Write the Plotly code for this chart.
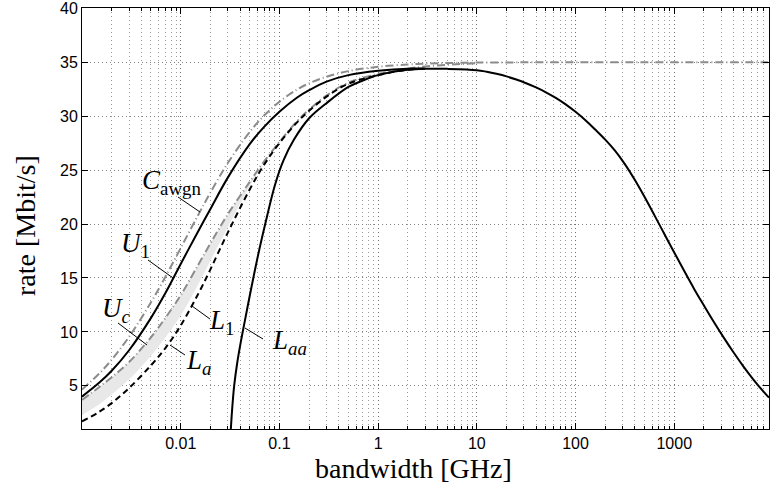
import math
import plotly.graph_objects as go

# ---------------- data ----------------
bw_low = [0.001, 0.0015, 0.002, 0.003, 0.005, 0.007, 0.01, 0.015, 0.02, 0.03,
          0.05, 0.07, 0.1, 0.15, 0.2, 0.3, 0.5, 1, 2, 3]
bw_high = [5, 10, 12.6, 15.8, 20, 25.1, 31.6, 39.8, 50.1, 63.1, 79.4, 100, 126, 158,
           200, 251, 316, 398, 501, 631, 794, 1000, 1259, 1585, 1995, 2512, 3162,
           3981, 5012, 6310, 7943, 9120]

c_awgn_low = [4.66, 6.15, 7.43, 9.55, 12.74, 15.11, 17.77, 20.82, 22.92, 25.65,
              28.53, 30.05, 31.33, 32.45, 33.04, 33.65, 34.17, 34.57, 34.79, 34.86]
c_awgn_high = [34.92, 34.96, 34.96, 34.97, 34.98, 34.98, 34.99, 34.99, 35.0, 35.0,
               35.0, 35.0, 35.0, 35.0, 35.0, 35.0, 35.0, 35.0, 35.0, 35.0,
               35.0, 35.0, 35.0, 35.0, 35.0, 35.0, 35.0, 35.0, 35.0, 35.0,
               35.0, 35.0]

u1_low = [4.0, 5.3, 6.4, 8.3, 11.3, 13.6, 16.3, 19.3, 21.4, 24.3,
          27.4, 29.0, 30.4, 31.7, 32.4, 33.2, 33.8, 34.2, 34.4, 34.4]
u1_high = [34.38, 34.26, 34.11, 33.92, 33.68, 33.39, 33.05, 32.66, 32.21, 31.69,
           31.09, 30.40, 29.62, 28.76, 27.82, 26.80, 25.55, 24.10, 22.50, 20.80,
           19.08, 17.36, 15.66, 14.01, 12.46, 10.94, 9.49, 8.11, 6.81, 5.61,
           4.51, 3.91]

uc_low = [3.7, 4.9, 5.8, 7.2, 9.5, 11.3, 13.4, 16.2, 18.2, 20.9,
          23.9, 25.8, 27.6, 29.5, 30.6, 31.9, 33.1, 33.9, 34.4, 34.6]
bw_uc_tail = [5, 10]
uc_tail = [34.75, 34.9]

l1_low = [2.3, 3.3, 4.2, 5.6, 7.8, 9.5, 11.5, 14.4, 16.6, 19.7,
          23.5, 25.7, 27.6, 29.5, 30.6, 31.9, 33.0, 33.8, 34.3, 34.45]

la_low = [1.7, 2.6, 3.4, 4.8, 6.9, 8.5, 10.6, 13.5, 15.8, 19.2,
          23.2, 25.5, 27.5, 29.4, 30.5, 31.8, 33.0, 33.8, 34.3, 34.4]

bw_aa = [0.0322, 0.0333, 0.0348, 0.0372, 0.0405, 0.0446, 0.0492, 0.0544, 0.0621, 0.0718,
         0.09, 0.11, 0.14, 0.2, 0.3, 0.5, 0.7, 1, 2, 3]
laa = [1.0, 3.0, 5.0, 7.0, 9.0, 11.0, 13.0, 15.0, 17.5, 20.0,
       23.6, 25.9, 27.8, 29.8, 31.2, 32.7, 33.3, 33.8, 34.3, 34.4]

x_tick_vals = [0.01, 0.1, 1, 10, 100, 1000]
x_tick_text = ["0.01", "0.1", "1", "10", "100", "1000"]
y_tick_vals = [5, 10, 15, 20, 25, 30, 35, 40]

# ---------------- figure ----------------
W, H = 770, 492
L, R, T, B = 82, 769, 8, 429

BLACK = "#000000"
GRAY = "#8c8c8c"
GRAY_DASH = "8px,3px,1px,3px"

fig = go.Figure()

# shaded band between U_c and L_1
fig.add_trace(go.Scatter(x=bw_low, y=uc_low, mode="lines", line=dict(width=0, shape="spline"),
                         showlegend=False, hoverinfo="skip"))
fig.add_trace(go.Scatter(x=bw_low, y=l1_low, mode="lines", line=dict(width=0, shape="spline"),
                         fill="tonexty", fillcolor="#e8e8e8", showlegend=False, hoverinfo="skip"))

# curves
fig.add_trace(go.Scatter(x=bw_low + bw_high, y=c_awgn_low + c_awgn_high, mode="lines",
                         line=dict(color=GRAY, width=2, dash=GRAY_DASH, shape="spline"),
                         name="C_awgn", showlegend=False))
fig.add_trace(go.Scatter(x=bw_low + bw_uc_tail, y=uc_low + uc_tail, mode="lines",
                         line=dict(color=GRAY, width=2, dash=GRAY_DASH, shape="spline"),
                         name="U_c", showlegend=False))
fig.add_trace(go.Scatter(x=bw_low, y=la_low, mode="lines",
                         line=dict(color=BLACK, width=2, dash="6px,4px", shape="spline"),
                         name="L_a", showlegend=False))
fig.add_trace(go.Scatter(x=bw_aa, y=laa, mode="lines",
                         line=dict(color=BLACK, width=2, shape="spline"),
                         name="L_aa", showlegend=False))
fig.add_trace(go.Scatter(x=bw_low + bw_high, y=u1_low + u1_high, mode="lines",
                         line=dict(color=BLACK, width=2, shape="spline"),
                         name="U_1", showlegend=False))

minor_vals = [k * 10 ** e for e in range(-3, 4) for k in range(2, 10)]

GRID_DASH = "1px,3px"
tickfont = dict(family="Liberation Sans, Arial, sans-serif", size=16, color=BLACK)

fig.update_xaxes(type="log", range=[-3, math.log10(9120)], automargin=False,
                 tickmode="array", tickvals=x_tick_vals, ticktext=x_tick_text,
                 ticks="inside", ticklen=6, tickcolor=BLACK, ticklabeloverflow="allow",
                 showline=True, linecolor=BLACK, linewidth=1, mirror="ticks",
                 showgrid=True, zeroline=False,
                 gridcolor="#6e6e6e", griddash=GRID_DASH, gridwidth=1,
                 minor=dict(tickmode="array", tickvals=minor_vals, ticks="inside", ticklen=3,
                            tickcolor=BLACK, showgrid=True, gridcolor="#9a9a9a",
                            griddash=GRID_DASH, gridwidth=1),
                 tickfont=tickfont)
fig.update_yaxes(range=[1, 40.02], automargin=False,
                 tickmode="array", tickvals=y_tick_vals,
                 ticks="inside", ticklen=6, tickcolor=BLACK, ticklabeloverflow="allow",
                 showline=True, linecolor=BLACK, linewidth=1, mirror="ticks",
                 showgrid=True, zeroline=False,
                 gridcolor="#808080", griddash=GRID_DASH, gridwidth=1,
                 tickfont=tickfont)


def px(x):
    return (x - L) / (R - L)


def py(y):
    return (B - y) / (B - T)


annotations = []
serif = "Liberation Serif, Times New Roman, serif"


def text_at(txt, cx, cy, size, angle=0):
    return dict(x=px(cx), y=py(cy), xref="paper", yref="paper", text=txt,
                xanchor="center", yanchor="middle", textangle=angle,
                showarrow=False, font=dict(family=serif, size=size, color=BLACK))


# axis titles
annotations.append(text_at("bandwidth [GHz]", 413, 468, 28))
annotations.append(text_at("rate [Mbit/s]", 26, 226, 28, angle=-90))

labels = [
    ("<i>C</i><sub>awgn</sub>", 171, 182),
    ("<i>U</i><sub>1</sub>", 135, 245),
    ("<i>U</i><sub><i>c</i></sub>", 116, 310),
    ("<i>L</i><sub>1</sub>", 221, 322),
    ("<i>L</i><sub><i>a</i></sub>", 198, 362),
    ("<i>L</i><sub><i>aa</i></sub>", 289, 342),
]
for txt, cx, cy in labels:
    annotations.append(text_at(txt, cx, cy, 27))

leaders = [
    (178, 197, 200, 212),
    (148, 260, 173, 278),
    (118, 323, 147, 345),
    (192, 306, 210, 319),
    (170, 345, 185, 355),
    (245, 328, 263, 339),
]
shapes = []
for x0, y0, x1, y1 in leaders:
    shapes.append(dict(type="line", xref="paper", yref="paper",
                       x0=px(x0), y0=py(y0), x1=px(x1), y1=py(y1),
                       line=dict(color=BLACK, width=1)))

fig.update_layout(width=W, height=H,
                  margin=dict(l=L, r=W - R, t=T, b=H - B),
                  plot_bgcolor="white", paper_bgcolor="white",
                  annotations=annotations, shapes=shapes, showlegend=False)

fig.write_html("out.html", config={"displayModeBar": False},
               post_script="document.body.style.margin='0px';")
